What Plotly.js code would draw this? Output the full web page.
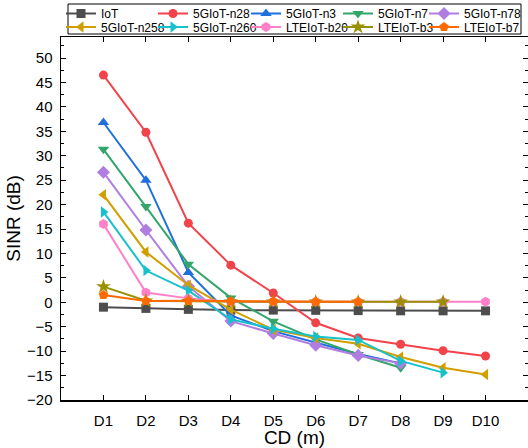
<!DOCTYPE html>
<html>
<head>
<meta charset="utf-8">
<script src="https://cdn.plot.ly/plotly-3.0.1.min.js"></script>
<style>html,body{margin:0;padding:0;background:#fff;}#chart{width:528px;height:448px;}</style>
</head>
<body>
<div id="chart"></div>
<script>
const categories = ["D1","D2","D3","D4","D5","D6","D7","D8","D9","D10"];
const seriesNames = ["IoT","5GIoT-n28","5GIoT-n3","5GIoT-n7","5GIoT-n78","5GIoT-n258","5GIoT-n260","LTEIoT-b20","LTEIoT-b3","LTEIoT-b7"];
const iot    = [-1.0,-1.25,-1.45,-1.6,-1.6,-1.65,-1.7,-1.75,-1.75,-1.75];
const n28    = [46.5,34.8,16.2,7.6,1.9,-4.2,-7.3,-8.6,-9.9,-11.0];
const n3     = [36.8,25.0,6.1,-2.7,-5.9,-8.2,-10.6,-12.5];
const n7     = [31.3,19.6,7.8,0.9,-3.9,-7.6,-10.7,-13.4];
const n78    = [26.6,14.8,3.3,-3.85,-6.4,-8.8,-10.9,-12.5];
const n258   = [22.0,10.3,3.5,-1.5,-5.6,-7.3,-8.5,-11.2,-13.4,-14.8];
const n260   = [18.5,6.5,2.4,-3.5,-5.4,-7.0,-7.7,-12.0,-14.4];
const b20    = [16.0,2.0,0.8,0.1,0.1,0.1,0.1,0.1,0.1,0.1];
const b3     = [3.2,0.3,0.2,0.1,0.1,0.1,0.1,0.1,0.1];
const b7     = [1.5,0.25,0.3,0.2,0.2,0.1,0.1];

const values = [iot,n28,n3,n7,n78,n258,n260,b20,b3,b7];
const colors = ["#4d4d4d","#f2434a","#1f6fdc","#33a56b","#b07ee0","#d19e00","#17c1cc","#ff80c8","#999000","#ff6a00"];
const symbols = ["square","circle","triangle-up","triangle-down","diamond","triangle-left","triangle-right","hexagon","star","pentagon"];
const sizes = [9,9,10,10,10,10,10,10,11,10];

const legendId = i => i === 0 ? "legend" : "legend" + (i + 1);

const traces = values.map((v,i)=>({
  type:"scatter", mode:"lines+markers", name:seriesNames[i],
  legend: legendId(i),
  x: v.map((_,j)=>j+1), y: v,
  line:{color:colors[i], width:2},
  marker:{color:colors[i], symbol:symbols[i], size:sizes[i]}
}));

// pixel helpers (plot area: x 61..528, y 37..400)
const px2x = p => Math.max(0, (p - 61) / 467);
const py2y = p => (400 - p) / 363;

// legend grid: 5 columns x 2 rows (pixel positions of each entry's left edge / row centre)
const colLeft = [61, 153, 246, 338, 424];
const rowMid = [13.5, 27];

const layout = {
  width:528, height:448,
  margin:{l:61, r:0, t:37, b:48, autoexpand:false},
  paper_bgcolor:"#fff", plot_bgcolor:"#fff",
  font:{family:"Arial, Liberation Sans, sans-serif", color:"#000"},
  showlegend:true,
  shapes:[{type:"rect", xref:"paper", yref:"paper",
    x0:px2x(68), x1:px2x(521), y0:py2y(34), y1:py2y(4),
    line:{color:"#000", width:1}, fillcolor:"#fff", layer:"below"}],
  xaxis:{range:[0,11], tickmode:"array", tickvals:categories.map((_,i)=>i+1), ticktext:categories,
    ticks:"inside", ticklen:5, tickwidth:1, tickcolor:"#000",
    showline:true, linecolor:"#000", linewidth:1.5, mirror:"ticks",
    showgrid:false, zeroline:false, tickfont:{size:15}, ticklabelstandoff:6,
    title:{text:"CD (m)", font:{size:19}, standoff:2}},
  yaxis:{range:[-20,54.3], tickmode:"linear", tick0:-20, dtick:5,
    ticks:"inside", ticklen:5, tickwidth:1, tickcolor:"#000",
    minor:{ticks:"inside", ticklen:3, dtick:2.5, tick0:-20, tickcolor:"#000"},
    showline:true, linecolor:"#000", linewidth:1.5, mirror:"ticks",
    showgrid:false, zeroline:false, tickfont:{size:15}, ticklabelstandoff:4,
    title:{text:"SINR (dB)", font:{size:19}, standoff:1}}
};

seriesNames.forEach((_,i)=>{
  const col = i % 5, row = Math.floor(i / 5);
  layout[legendId(i)] = {orientation:"h", xanchor:"left", yanchor:"middle",
    xref:"paper", yref:"container",
    x: px2x(colLeft[col]), y: 1 - rowMid[row] / 448,
    bgcolor:"rgba(0,0,0,0)", borderwidth:0, font:{size:12}, itemwidth:30};
});

Plotly.newPlot("chart", traces, layout, {displayModeBar:false, staticPlot:true});
</script>
</body>
</html>
